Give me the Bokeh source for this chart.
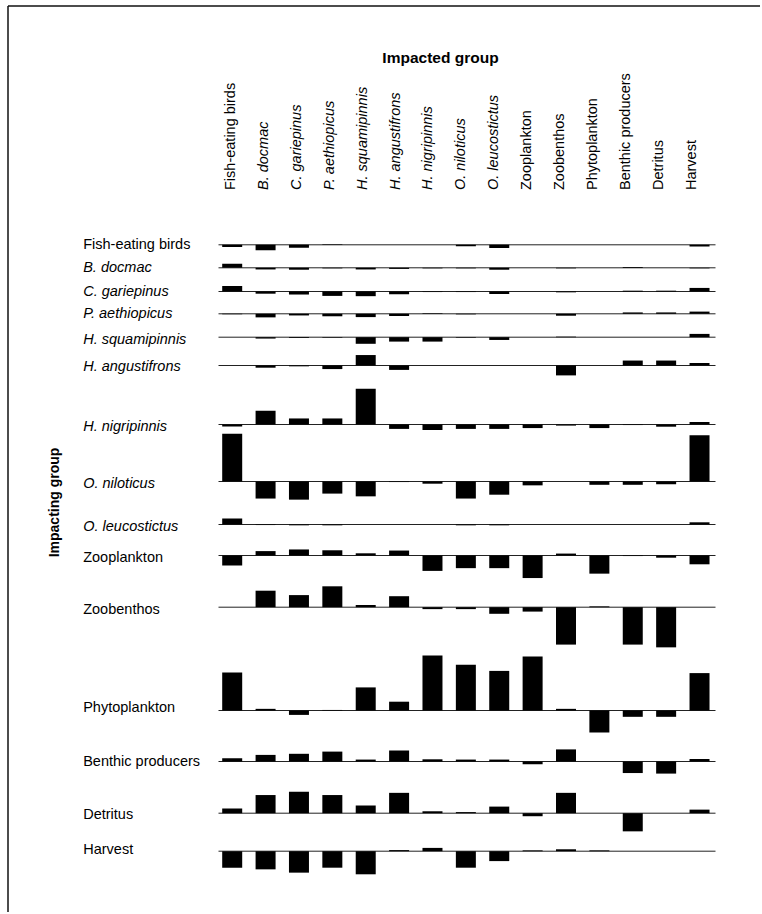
import math
from bokeh.plotting import figure
from bokeh.models import Range1d, ColumnDataSource, Span
from bokeh.embed import file_html
from bokeh.resources import INLINE
from bokeh.core.properties import value

# ---------------- data ----------------
groups = ["Fish-eating birds", "B. docmac", "C. gariepinus", "P. aethiopicus",
          "H. squamipinnis", "H. angustifrons", "H. nigripinnis", "O. niloticus",
          "O. leucostictus", "Zooplankton", "Zoobenthos", "Phytoplankton",
          "Benthic producers", "Detritus", "Harvest"]
is_italic = [False, True, True, True, True, True, True, True, True,
             False, False, False, False, False, False]

# mixed trophic impact of each impacting group (row) on each impacted group (columns, same order)
fish_eating_birds = [-0.04, -0.10, -0.055, 0.01, 0.0, 0.0, 0.0, -0.025, -0.06, 0.0, 0.0, 0.0, 0.0, 0.0, -0.03]
b_docmac          = [0.075, -0.03, -0.035, -0.01, -0.03, -0.02, -0.01, -0.01, -0.035, 0.0, -0.01, 0.0, 0.015, 0.0, -0.01]
c_gariepinus      = [0.10, -0.04, -0.055, -0.08, -0.085, -0.05, -0.01, -0.01, -0.045, 0.0, -0.015, 0.0, 0.015, 0.015, 0.065]
p_aethiopicus     = [-0.01, -0.065, -0.03, -0.045, -0.06, -0.04, 0.01, -0.01, 0.0, 0.0, -0.035, 0.0, 0.025, 0.025, 0.04]
h_squamipinnis    = [0.0, -0.025, -0.015, -0.01, -0.12, -0.08, -0.08, -0.01, -0.05, 0.0, 0.01, 0.0, 0.0, 0.0, 0.06]
h_angustifrons    = [0.0, -0.04, -0.015, -0.065, 0.19, -0.08, 0.0, 0.0, 0.0, 0.0, -0.18, 0.0, 0.09, 0.09, 0.045]
h_nigripinnis     = [-0.035, 0.25, 0.11, 0.11, 0.65, -0.08, -0.10, -0.08, -0.08, -0.065, -0.02, -0.065, -0.01, -0.04, 0.045]
o_niloticus       = [0.87, -0.31, -0.33, -0.22, -0.27, -0.01, -0.04, -0.31, -0.24, -0.07, 0.0, -0.06, -0.06, -0.05, 0.84]
o_leucostictus    = [0.11, -0.01, -0.015, -0.015, 0.0, 0.0, 0.0, -0.015, -0.015, 0.0, 0.0, 0.0, 0.0, 0.0, 0.04]
zooplankton       = [-0.18, 0.08, 0.11, 0.095, 0.04, 0.09, -0.28, -0.23, -0.23, -0.41, 0.035, -0.33, -0.01, -0.04, -0.16]
zoobenthos        = [0.0, 0.30, 0.22, 0.38, 0.04, 0.20, -0.035, -0.035, -0.12, -0.08, -0.68, 0.015, -0.68, -0.73, 0.0]
phytoplankton     = [0.69, 0.03, -0.08, 0.01, 0.42, 0.16, 1.0, 0.83, 0.72, 0.98, 0.03, -0.40, -0.115, -0.115, 0.68]
benthic_producers = [0.06, 0.12, 0.14, 0.18, 0.035, 0.20, 0.04, 0.035, 0.035, -0.05, 0.22, 0.0, -0.21, -0.22, 0.045]
detritus          = [0.085, 0.33, 0.39, 0.33, 0.14, 0.37, 0.035, 0.02, 0.12, -0.055, 0.37, 0.0, -0.33, 0.0, 0.065]
harvest           = [-0.30, -0.33, -0.39, -0.30, -0.42, 0.02, 0.06, -0.30, -0.18, 0.015, 0.035, 0.015, 0.0, 0.0, 0.0]

impact_rows = [fish_eating_birds, b_docmac, c_gariepinus, p_aethiopicus, h_squamipinnis,
               h_angustifrons, h_nigripinnis, o_niloticus, o_leucostictus, zooplankton,
               zoobenthos, phytoplankton, benthic_producers, detritus, harvest]

# ---------------- layout (pixels on the page) ----------------
W, H = 760, 912
ORIGIN = 0.0                         # page pixel of the figure's top-left corner
PX_COL0, PX_STEP = 231.7, 33.38      # centre of first column, column spacing
PX_PER_UNIT = 55.0                   # vertical pixels per unit of impact
row_line_px = [244.3, 267.3, 291.0, 313.3, 336.7, 365.0, 424.0, 481.0, 524.0,
               555.0, 606.7, 710.0, 761.0, 812.7, 850.7]
row_label_px = [243.3, 266.7, 290.0, 312.3, 338.0, 365.0, 425.8, 482.7, 525.7,
                556.7, 608.0, 706.7, 760.0, 813.0, 848.0]
COL_LABEL_X0, COL_LABEL_STEP, COL_LABEL_BOTTOM = 229.2, 32.96, 189.5
ROW_LABEL_X = 82.7
LINE_X0, LINE_X1 = 218.0, 715.0
FRAME_TOP, FRAME_LEFT = 5.5, 7.5
FONT = value("Liberation Sans")


def px_x(px):
    return (px - PX_COL0) / PX_STEP


def px_y(py):
    return -(py - ORIGIN) / PX_PER_UNIT


xs = px_x(ORIGIN)
xe = xs + W / PX_STEP
ys = -H / PX_PER_UNIT

p = figure(width=W, height=H, x_range=Range1d(xs, xe), y_range=Range1d(ys, 0),
           output_backend="svg", toolbar_location=None, min_border=0, title=None)
p.axis.visible = False
p.grid.visible = False
p.outline_line_color = None
p.background_fill_color = "white"
p.border_fill_color = "white"

# frame lines (top and left), meeting at the top-left corner
p.segment(x0=[px_x(FRAME_LEFT), px_x(FRAME_LEFT)], x1=[xe + 1, px_x(FRAME_LEFT)],
          y0=[px_y(FRAME_TOP), px_y(FRAME_TOP)], y1=[px_y(FRAME_TOP), ys - 1],
          line_color="#111111", line_width=1.5)

# baselines
bases = [px_y(v) for v in row_line_px]
p.segment(x0=[px_x(LINE_X0)] * len(bases), x1=[px_x(LINE_X1)] * len(bases),
          y0=bases, y1=bases, line_color="#222222", line_width=1)

# bars
bx, bb, bt = [], [], []
for r, row in enumerate(impact_rows):
    for c, v in enumerate(row):
        if v == 0:
            continue
        bx.append(c)
        bb.append(bases[r])
        bt.append(bases[r] + v)
p.vbar(x=bx, width=20.0 / PX_STEP, bottom=bb, top=bt, fill_color="black", line_color=None)

styles = ["italic" if it else "normal" for it in is_italic]

# row labels
row_src = ColumnDataSource(dict(x=[px_x(ROW_LABEL_X)] * len(groups),
                                y=[px_y(v) for v in row_label_px],
                                t=groups, s=styles))
p.text(x="x", y="y", text="t", text_font_style="s", source=row_src, text_font=FONT,
       text_font_size="14.5px", text_align="left", text_baseline="middle", text_color="black")

# column labels
col_src = ColumnDataSource(dict(x=[px_x(COL_LABEL_X0 + COL_LABEL_STEP * i) for i in range(len(groups))],
                                y=[px_y(COL_LABEL_BOTTOM)] * len(groups),
                                t=groups, s=styles))
p.text(x="x", y="y", text="t", text_font_style="s", source=col_src, text_font=FONT,
       text_font_size="14.5px", angle=math.pi / 2, text_align="left", text_baseline="middle",
       text_color="black")

# axis titles
p.text(x=[px_x(440.0)], y=[px_y(56.5)], text=["Impacted group"], text_font=FONT,
       text_font_size="15.5px", text_font_style="bold", text_align="center",
       text_baseline="alphabetic", text_color="black")
p.text(x=[px_x(53.5)], y=[px_y(502.0)], text=["Impacting group"], text_font=FONT,
       text_font_size="14px", text_font_style="bold", angle=math.pi / 2,
       text_align="center", text_baseline="middle", text_color="black")

open("out.html", "w").write(file_html(p, INLINE))
